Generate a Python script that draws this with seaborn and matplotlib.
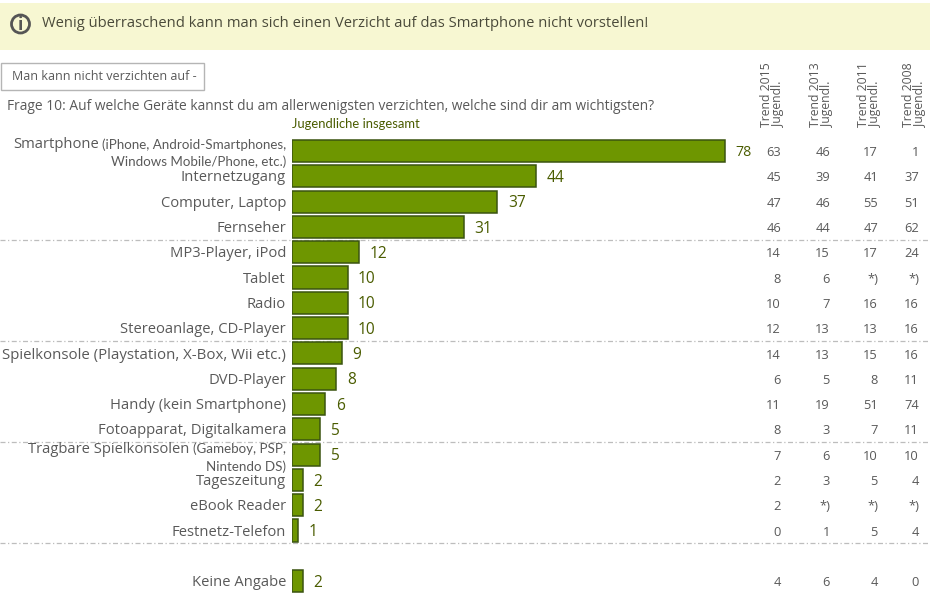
import matplotlib
matplotlib.use("Agg")
import matplotlib.pyplot as plt
from matplotlib.patches import Rectangle, Circle
from matplotlib.transforms import blended_transform_factory, offset_copy
import numpy as np
import pandas as pd
import seaborn as sns

W, H = 930, 598

categories = ["Smartphone", "Internetzugang", "Computer, Laptop", "Fernseher",
              "MP3-Player, iPod", "Tablet", "Radio", "Stereoanlage, CD-Player",
              "Spielkonsole (Playstation, X-Box, Wii etc.)", "DVD-Player",
              "Handy (kein Smartphone)", "Fotoapparat, Digitalkamera",
              "Tragbare Spielkonsolen", "Tageszeitung", "eBook Reader",
              "Festnetz-Telefon", " ", "Keine Angabe"]
values = [78, 44, 37, 31, 12, 10, 10, 10, 9, 8, 6, 5, 5, 2, 2, 1, np.nan, 2]
trend_2015 = ["63", "45", "47", "46", "14", "8", "10", "12", "14", "6", "11", "8", "7", "2", "2", "0", "", "4"]
trend_2013 = ["46", "39", "46", "44", "15", "6", "7", "13", "13", "5", "19", "3", "6", "3", "*)", "1", "", "6"]
trend_2011 = ["17", "41", "55", "47", "17", "*)", "16", "13", "15", "8", "51", "7", "10", "5", "*)", "5", "", "4"]
trend_2008 = ["1", "37", "51", "62", "24", "*)", "16", "16", "16", "11", "74", "11", "10", "4", "*)", "4", "", "0"]
trend_years = ["Trend 2015", "Trend 2013", "Trend 2011", "Trend 2008"]

sns.set_theme(style="white")
FONT = ["Open Sans", "DejaVu Sans"]
SMALL = ["Lato", "DejaVu Sans"]
plt.rcParams["font.family"] = FONT
GREY = "#595959"
OLIVE = "#4A5C00"

fig = plt.figure(figsize=(W / 100, H / 100), dpi=100, facecolor="white")

def px_axes(x0, y0, x1, y1):
    return fig.add_axes([x0 / W, 1 - y1 / H, (x1 - x0) / W, (y1 - y0) / H])

# background canvas in pixel coordinates
bg = fig.add_axes([0, 0, 1, 1])
bg.set_xlim(0, W)
bg.set_ylim(H, 0)
bg.axis("off")
bg.add_patch(Rectangle((0, 3), W, 47, fc="#F7F7D2", ec="none"))
bg.add_patch(Rectangle((1, 62.5), 203, 27.5, fc="white", ec="#B5B5B5", lw=1))
bg.add_patch(Circle((20.5, 24), 9, fc="none", ec="#555555", lw=2))
bg.text(20.5, 24.5, "i", ha="center", va="center", fontsize=12.5, fontweight="bold", color="#555555")
bg.text(42, 23.5, "Wenig überraschend kann man sich einen Verzicht auf das Smartphone nicht vorstellen!",
        ha="left", va="center", fontsize=10.65, color="#4A4A3A")
bg.text(12, 77, "Man kann nicht verzichten auf -", ha="left", va="center", fontsize=9.0, color=GREY)
bg.text(7, 106.5, "Frage 10: Auf welche Geräte kannst du am allerwenigsten verzichten, welche sind dir am wichtigsten?",
        ha="left", va="center", fontsize=9.9, color=GREY)
bg.text(291.5, 124, "Jugendliche insgesamt", ha="left", va="center", fontsize=9.4, color=OLIVE, family=SMALL)

for y in (240, 341, 442, 543):
    bg.plot([0, W], [y, y], color="#BDBDBD", lw=0.9, ls=(0, (4, 2, 1, 2)))

for name, xa, xb in zip(trend_years, (766, 815, 863, 908), (778, 827, 875, 920)):
    bg.text(xa, 127, name, rotation=90, ha="center", va="bottom", fontsize=8.85, color=GREY)
    bg.text(xb, 127, "Jugendl.", rotation=90, ha="center", va="bottom", fontsize=8.85, color=GREY)

# bars
ax = px_axes(292, 138.35, 930, 593.75)
ax.patch.set_alpha(0)
df = pd.DataFrame({"cat": categories, "val": values})
sns.barplot(data=df, x="val", y="cat", order=categories, orient="h", ax=ax,
            color="#6E9600", saturation=1, width=0.87, edgecolor="#3A5410", linewidth=1.1)
ax.set_xlim(0, 638 / 5.55)
ax.set_ylim(len(categories) - 0.5, -0.5)
ax.set_xlabel("")
ax.set_ylabel("")
ax.set_xticks([])
ax.set_yticks([])
sns.despine(ax=ax, left=True, bottom=True)

# y offset of -1.2 pt moves label text down onto the reference baseline
tr = offset_copy(blended_transform_factory(bg.transData, ax.transData), fig=fig, y=-1.2, units="points")

for i, (c, v) in enumerate(zip(categories, values)):
    if not np.isnan(v):
        ax.annotate(f"{int(v)}", (v, i), xytext=(7.6, -1.2), textcoords="offset points",
                    ha="left", va="center", fontsize=10.2 if i == 0 else 11.2, color=OLIVE)
    if i in (0, 12) or c == " ":
        continue
    size = 10.8 if i == 8 else 10.65
    ax.text(286, i, c, transform=tr, ha="right", va="center", fontsize=size, color=GREY, clip_on=False)

# two-line labels with a small bracket part
ax.text(99, -0.32, "Smartphone", transform=tr, ha="right", va="center", fontsize=10.65, color=GREY)
ax.text(286, -0.30, "(iPhone, Android-Smartphones,", transform=tr, ha="right", va="center", fontsize=9.6, color=GREY, family=SMALL)
ax.text(286, 0.36, "Windows Mobile/Phone, etc.)", transform=tr, ha="right", va="center", fontsize=9.6, color=GREY, family=SMALL)
ax.text(189, 11.72, "Tragbare Spielkonsolen", transform=tr, ha="right", va="center", fontsize=10.65, color=GREY)
ax.text(286, 11.72, "(Gameboy, PSP,", transform=tr, ha="right", va="center", fontsize=9.6, color=GREY, family=SMALL)
ax.text(286, 12.42, "Nintendo DS)", transform=tr, ha="right", va="center", fontsize=9.6, color=GREY, family=SMALL)

# trend columns
for col, xr in zip((trend_2015, trend_2013, trend_2011, trend_2008), (781, 830, 878, 919)):
    for i, s in enumerate(col):
        ax.text(xr, i, s, transform=tr, ha="right", va="center", fontsize=9.3, color=GREY)

fig.savefig("out.png", dpi=100)
